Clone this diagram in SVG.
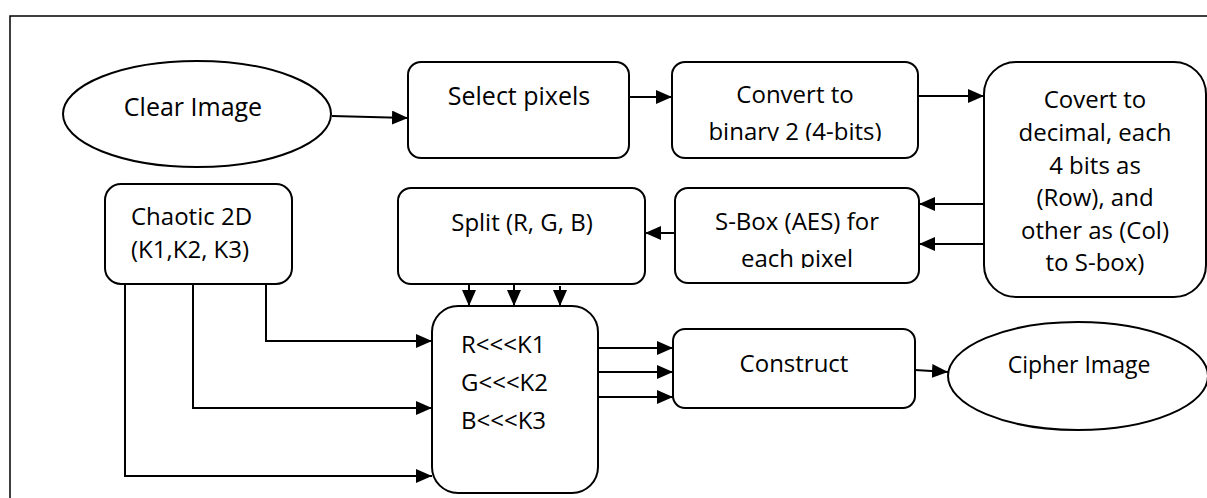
<svg xmlns="http://www.w3.org/2000/svg" width="1207" height="498" viewBox="0 0 1207 498">
<style>
.box{fill:#fff;stroke:#000;stroke-width:2}
.t{font-family:"Open Sans","Noto Sans","Liberation Sans",sans-serif;font-size:24px;fill:#000}
.c{text-anchor:middle}
.ln{fill:none;stroke:#000;stroke-width:2}
</style>
<defs>
<marker id="ah" markerWidth="16" markerHeight="14" refX="16" refY="7" orient="auto" markerUnits="userSpaceOnUse">
<path d="M0,0 L16,7 L0,14 Z" fill="#000"/>
</marker>
<clipPath id="cp1"><rect x="672" y="60" width="246" height="81"/></clipPath>
<clipPath id="cp2"><rect x="675" y="186" width="244" height="82"/></clipPath>
</defs>
<rect width="1207" height="498" fill="#fff"/>
<path d="M10,498 V16 H1207" fill="none" stroke="#000" stroke-width="1.5"/>

<g id="clear-image">
<ellipse class="box" cx="197" cy="114" rx="134" ry="53"/>
<text class="t c" x="193" y="116" style="font-size:25px">Clear Image</text>
</g>
<g id="select-pixels">
<rect class="box" x="408" y="62" width="221" height="96" rx="13"/>
<text class="t c" x="519" y="105" style="font-size:25px">Select pixels</text>
</g>
<g id="convert-binary">
<rect class="box" x="672" y="62" width="246" height="96" rx="13"/>
<g clip-path="url(#cp1)">
<text class="t c" x="795" y="103">Convert to</text>
<text class="t c" x="795" y="140">binary 2 (4-bits)</text>
</g>
</g>
<g id="covert-decimal">
<rect class="box" x="984" y="62" width="222" height="235" rx="32"/>
<text class="t c" x="1095" y="108">Covert to</text>
<text class="t c" x="1095" y="141">decimal, each</text>
<text class="t c" x="1095" y="174">4 bits as</text>
<text class="t c" x="1095" y="206">(Row), and</text>
<text class="t c" x="1095" y="239">other as (Col)</text>
<text class="t c" x="1095" y="271">to S-box)</text>
</g>
<g id="sbox">
<rect class="box" x="675" y="188" width="244" height="95" rx="13"/>
<g clip-path="url(#cp2)">
<text class="t c" x="797" y="230">S-Box (AES) for</text>
<text class="t c" x="797" y="267">each pixel</text>
</g>
</g>
<g id="split">
<rect class="box" x="398" y="188" width="247" height="96" rx="13"/>
<text class="t c" x="522" y="231">Split (R, G, B)</text>
</g>
<g id="chaotic">
<rect class="box" x="105" y="184" width="187" height="100" rx="16"/>
<text class="t" x="131" y="225">Chaotic 2D</text>
<text class="t" x="131" y="258">(K1,K2, K3)</text>
</g>
<g id="rotate">
<rect class="box" x="432" y="306" width="166" height="187" rx="26"/>
<text class="t" x="461" y="353">R&lt;&lt;&lt;K1</text>
<text class="t" x="461" y="391">G&lt;&lt;&lt;K2</text>
<text class="t" x="461" y="429">B&lt;&lt;&lt;K3</text>
</g>
<g id="construct">
<rect class="box" x="673" y="329" width="242" height="79" rx="12"/>
<text class="t c" x="794" y="372">Construct</text>
</g>
<g id="cipher-image">
<ellipse class="box" cx="1078" cy="376" rx="130" ry="54"/>
<text class="t c" x="1079" y="373" style="font-size:23px">Cipher Image</text>
</g>

<g id="connectors">
<path class="ln" d="M332,116 L408,118" marker-end="url(#ah)"/>
<path class="ln" d="M629,97 H672" marker-end="url(#ah)"/>
<path class="ln" d="M918,96 H984" marker-end="url(#ah)"/>
<path class="ln" d="M984,204 H919" marker-end="url(#ah)"/>
<path class="ln" d="M984,244 H919" marker-end="url(#ah)"/>
<path class="ln" d="M675,233 H645" marker-end="url(#ah)"/>
<path class="ln" d="M469,284 V306" marker-end="url(#ah)"/>
<path class="ln" d="M514,284 V306" marker-end="url(#ah)"/>
<path class="ln" d="M560,286 V306" marker-end="url(#ah)"/>
<path class="ln" d="M266,284 V341 H432" marker-end="url(#ah)"/>
<path class="ln" d="M193,284 V408 H432" marker-end="url(#ah)"/>
<path class="ln" d="M125,284 V476 H432" marker-end="url(#ah)"/>
<path class="ln" d="M598,348 H673" marker-end="url(#ah)"/>
<path class="ln" d="M598,372 H673" marker-end="url(#ah)"/>
<path class="ln" d="M598,397 H673" marker-end="url(#ah)"/>
<path class="ln" d="M915,370 L948,372" marker-end="url(#ah)"/>
</g>
</svg>
